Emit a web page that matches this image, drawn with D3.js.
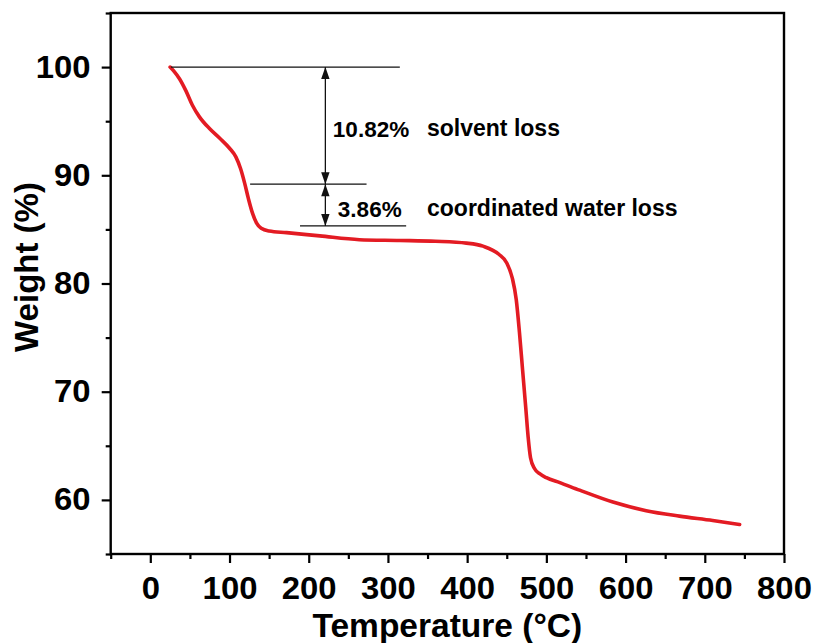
<!DOCTYPE html>
<html>
<head>
<meta charset="utf-8">
<script src="https://cdn.jsdelivr.net/npm/d3@7/dist/d3.min.js"></script>
<style>
  html, body { margin: 0; padding: 0; background: #fff; }
  svg { display: block; font-family: "Liberation Sans", Arial, sans-serif; }
</style>
</head>
<body>
<svg id="chart" width="815" height="643"></svg>
<script>
// TGA curve: temperature (°C) vs. residual weight (%)
const temperature = [25, 30, 37, 45, 53, 62, 75, 88, 100, 108, 114, 119, 124, 129, 134, 140, 150,
  172, 214, 264, 315, 360, 399, 420, 440, 450, 457, 462, 466, 470, 474, 477, 480, 485, 492, 500,
  517, 542, 584, 626, 668, 710, 744];
const weight = [100.0, 99.6, 98.9, 97.8, 96.5, 95.4, 94.3, 93.4, 92.5, 91.7, 90.6, 89.3, 87.8, 86.5,
  85.6, 85.1, 84.85, 84.7, 84.4, 84.05, 83.98, 83.9, 83.73, 83.45, 82.7, 81.9, 80.5, 78.5, 75.5,
  72.0, 68.5, 65.8, 63.9, 62.9, 62.4, 62.05, 61.6, 60.9, 59.8, 59.0, 58.5, 58.1, 57.73];

const xTicks = [0, 100, 200, 300, 400, 500, 600, 700, 800];
const xMinorTicks = [-50, 50, 150, 250, 350, 450, 550, 650, 750];
const yTicks = [60, 70, 80, 90, 100];
const yMinorTicks = [55, 65, 75, 85, 95, 105];

// Mass-loss steps
const stepLabels = ["solvent loss", "coordinated water loss"];
const stepLoss = [10.82, 3.86];
const startWeight = 100;

const svg = d3.select("#chart");
const plotLeft = 110.7, plotRight = 784, plotTop = 13, plotBottom = 554;

const x = d3.scaleLinear().domain([-50, 800]).range([plotLeft, plotRight]);
const y = d3.scaleLinear().domain([55, 105]).range([plotBottom, plotTop]);

// frame
svg.append("rect")
  .attr("x", plotLeft).attr("y", plotTop)
  .attr("width", plotRight - plotLeft).attr("height", plotBottom - plotTop)
  .attr("fill", "none").attr("stroke", "#000").attr("stroke-width", 2.4);

function styleAxis(g, fontSize) {
  g.select(".domain").remove();
  g.selectAll(".tick line").attr("stroke", "#000").attr("stroke-width", 2.2);
  g.selectAll(".tick text")
    .attr("fill", "#000")
    .style("font-size", fontSize + "px")
    .style("font-weight", "bold")
    .style("font-family", "'Liberation Sans', Arial, sans-serif");
}

// x axis
svg.append("g").attr("transform", `translate(0,${plotBottom})`)
  .call(d3.axisBottom(x).tickValues(xMinorTicks).tickSize(5).tickFormat(""))
  .call(g => styleAxis(g, 30));
svg.append("g").attr("transform", `translate(0,${plotBottom})`)
  .call(d3.axisBottom(x).tickValues(xTicks).tickSize(9).tickPadding(14).tickFormat(d3.format("d")))
  .call(g => styleAxis(g, 31))
  .selectAll(".tick text").attr("transform", "scale(1.06,1)");

// y axis
svg.append("g").attr("transform", `translate(${plotLeft},0)`)
  .call(d3.axisLeft(y).tickValues(yMinorTicks).tickSize(5).tickFormat(""))
  .call(g => styleAxis(g, 30));
svg.append("g").attr("transform", `translate(${plotLeft},0)`)
  .call(d3.axisLeft(y).tickValues(yTicks).tickSize(9).tickPadding(10).tickFormat(d3.format("d")))
  .call(g => styleAxis(g, 31))
  .selectAll(".tick text").attr("transform", "scale(1.06,1)");

// axis titles
svg.append("text")
  .attr("x", (plotLeft + plotRight) / 2).attr("y", 637)
  .attr("text-anchor", "middle")
  .style("font-size", "33.5px").style("font-weight", "bold")
  .text("Temperature (°C)");
svg.append("text")
  .attr("transform", "translate(38,267) rotate(-90)")
  .attr("text-anchor", "middle")
  .style("font-size", "33px").style("font-weight", "bold")
  .text("Weight (%)");

// curve
const pts = temperature.map((t, i) => [t, weight[i]]);
svg.append("path")
  .datum(pts)
  .attr("fill", "none")
  .attr("stroke", "#e31b23")
  .attr("stroke-width", 3.6)
  .attr("stroke-linejoin", "round")
  .attr("stroke-linecap", "round")
  .attr("d", d3.line().x(d => x(d[0])).y(d => y(d[1])).curve(d3.curveMonotoneX));

// step levels and double-headed arrows
const levels = [startWeight];
stepLoss.forEach(v => levels.push(+(levels[levels.length - 1] - v).toFixed(2)));
const levelSpans = [[26, 315], [126, 273], [189, 323]];
const arrowT = 221;
const ax = x(arrowT);

const ann = svg.append("g");
levels.forEach((lv, i) => {
  ann.append("line")
    .attr("x1", x(levelSpans[i][0])).attr("x2", x(levelSpans[i][1]))
    .attr("y1", y(lv)).attr("y2", y(lv))
    .attr("stroke", "#111").attr("stroke-width", 1.3);
});

function head(tipY, dir) {
  // dir = -1 points up, +1 points down
  const L = 12, W = 4.2;
  const by = tipY - dir * L;
  ann.append("path")
    .attr("d", `M${ax},${tipY} L${ax - W},${by} L${ax + W},${by} Z`)
    .attr("fill", "#111");
}

stepLoss.forEach((v, i) => {
  const y0 = y(levels[i]), y1 = y(levels[i + 1]);
  ann.append("line")
    .attr("x1", ax).attr("x2", ax).attr("y1", y0).attr("y2", y1)
    .attr("stroke", "#111").attr("stroke-width", 1.3);
  head(y0, -1);
  head(y1, 1);
  const mid = (y0 + y1) / 2;
  const base = mid + (i === 0 ? 11 : 12);
  ann.append("text")
    .attr("x", ax + (i === 0 ? 7.5 : 12.5)).attr("y", base)
    .style("font-size", "22.5px").style("font-weight", "bold")
    .text(v.toFixed(2) + "%");
  ann.append("text")
    .attr("x", 427).attr("y", base - (i === 0 ? 1 : 1.5))
    .style("font-size", "23px").style("font-weight", "bold")
    .text(stepLabels[i]);
});
</script>
</body>
</html>
